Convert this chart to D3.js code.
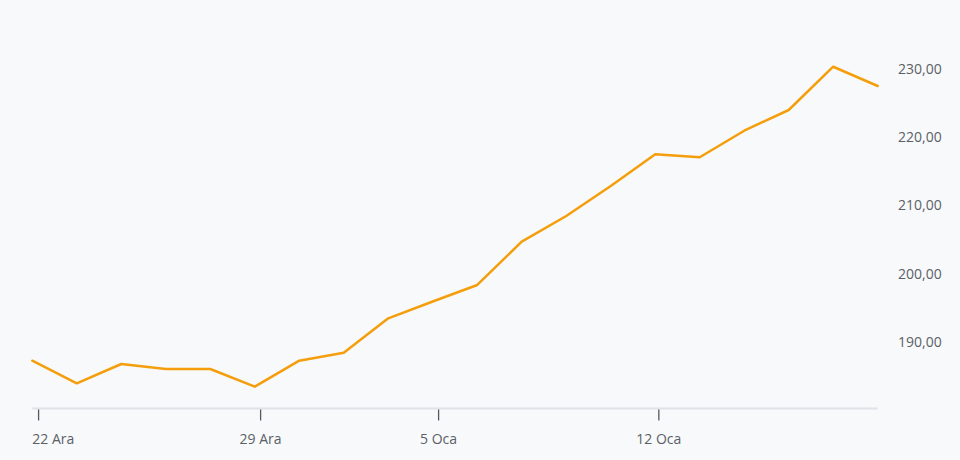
<!DOCTYPE html>
<html>
<head>
<meta charset="utf-8">
<script src="https://cdn.jsdelivr.net/npm/d3@7"></script>
<style>
  html, body { margin: 0; padding: 0; background: #f8f9fb; }
  svg { display: block; }
  text { font-family: "Open Sans", "Noto Sans", sans-serif; }
</style>
</head>
<body>
<svg id="chart" width="960" height="460"></svg>
<script>
// Trading days (BIST) and closing values
const dates = ["2024-12-23","2024-12-24","2024-12-25","2024-12-26","2024-12-27",
               "2024-12-30","2024-12-31","2025-01-02","2025-01-03","2025-01-06",
               "2025-01-07","2025-01-08","2025-01-09","2025-01-10","2025-01-13",
               "2025-01-14","2025-01-15","2025-01-16","2025-01-17","2025-01-20"];
const values = [187.22, 183.91, 186.74, 186.01, 186.01,
                183.42, 187.22, 188.39, 193.42, 195.88,
                198.30, 204.63, 208.39, 212.78, 217.42,
                216.98, 220.87, 223.90, 230.23, 227.41];
const xTickLabels = ["22 Ara", "29 Ara", "5 Oca", "12 Oca"];
const xTickPos = [0.13, 5.12, 9.12, 14.07];   // in trading-day index units
const yTicks = [190, 200, 210, 220, 230];

const W = 960, H = 460;
const svg = d3.select("#chart");

const x = d3.scaleLinear().domain([0, dates.length - 1]).range([32.3, 877.7]);
const y = d3.scaleLinear().domain([190, 230]).range([341.7, 68.3]);

const fmt = v => d3.format(".2f")(v).replace(".", ",");

// y axis labels (right)
const yAxis = d3.axisRight(y).tickValues(yTicks).tickFormat(fmt).tickSize(0).tickPadding(0);
const gy = svg.append("g").attr("transform", "translate(898,0)").call(yAxis);
gy.select(".domain").remove();
gy.selectAll("text")
  .attr("fill", "#5b5f66")
  .attr("font-size", 14)
  .attr("dy", "0.35em");

// x axis
const axisY = 408.5;
svg.append("line")
  .attr("x1", x.range()[0]).attr("x2", x.range()[1])
  .attr("y1", axisY).attr("y2", axisY)
  .attr("stroke", "#e0e2e7").attr("stroke-width", 2);

const xAxis = d3.axisBottom(x).tickValues(xTickPos)
  .tickFormat((d, i) => xTickLabels[i]).tickSize(11).tickPadding(14);
const gx = svg.append("g").attr("transform", `translate(0,${axisY + 1})`).call(xAxis);
gx.select(".domain").remove();
gx.selectAll(".tick line").attr("stroke", "#555a61").attr("stroke-width", 1.3);
gx.selectAll(".tick text")
  .attr("fill", "#5b5f66")
  .attr("font-size", 14);
// keep the first label inside the plot's left edge
gx.selectAll(".tick text").each(function() {
  const t = d3.select(this);
  const tr = this.parentNode.getAttribute("transform");
  const tx = +tr.match(/translate\(([-\d.]+)/)[1];
  const bb = this.getBBox();
  const left = tx + bb.x;
  if (left < x.range()[0]) {
    t.attr("text-anchor", "start").attr("x", x.range()[0] - tx);
  }
});

// line
const line = d3.line().x((d, i) => x(i)).y(d => y(d));
svg.append("path")
  .datum(values)
  .attr("d", line)
  .attr("fill", "none")
  .attr("stroke", "#f59e0b")
  .attr("stroke-width", 2.5)
  .attr("stroke-linejoin", "round")
  .attr("stroke-linecap", "round");
</script>
</body>
</html>
